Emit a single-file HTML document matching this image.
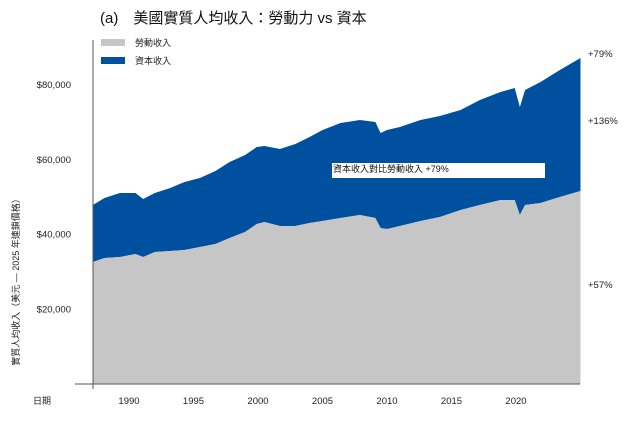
<!DOCTYPE html>
<html><head><meta charset="utf-8"><style>
body{margin:0;background:#fff;font-family:"Liberation Sans","Noto Sans CJK TC",sans-serif}
svg text{font-family:"Liberation Sans","Noto Sans CJK TC",sans-serif}
</style></head><body>
<svg id="c" width="627" height="419" viewBox="0 0 627 419">
<text x="100" y="23" font-size="15" fill="#111">(a)　美國實質人均收入：勞動力 vs 資本</text>
<rect x="101" y="39" width="24" height="7" fill="#c6c6c6"/>
<text x="135" y="46" font-size="9" fill="#222">勞動收入</text>
<rect x="101" y="57" width="24" height="7" fill="#0050a0"/>
<text x="135" y="64" font-size="9" fill="#222">資本收入</text>
<g id="plot"></g>
<text transform="translate(19,280) rotate(-90)" text-anchor="middle" font-size="9" fill="#222">實質人均收入（美元 — 2025 年連鎖價格）</text>
<text x="33" y="404" font-size="9" fill="#222">日期</text>
<text x="588" y="57" font-size="9.5" fill="#222">+79%</text>
<text x="588" y="124" font-size="9.5" fill="#222">+136%</text>
<text x="588" y="288" font-size="9.5" fill="#222">+57%</text>
<g id="anno"><rect x="332" y="163" width="213" height="15" fill="#fff"/>
<text x="333" y="172" font-size="9" fill="#111">資本收入對比勞動收入 +79%</text></g>
</svg>
<script>
const years=[1987.2,1988.1,1989.3,1990.5,1991.1,1992.0,1993.2,1994.3,1995.5,1996.7,1997.8,1999.0,1999.9,2000.5,2001.7,2002.9,2004.0,2005.0,2006.4,2007.9,2009.1,2009.5,2010.0,2011.0,2012.6,2014.1,2015.7,2017.2,2018.8,2019.9,2020.3,2020.7,2021.9,2023.4,2025.0];
const labor=[32660,33730,34000,34800,34000,35340,35600,35870,36670,37480,39080,40690,42830,43370,42300,42300,43100,43640,44440,45240,44440,41760,41490,42300,43640,44710,46580,47920,49260,49260,45240,47920,48450,50060,51670];
const capital=[15260,16060,17130,16330,15530,15790,16870,18210,18480,19540,20350,20610,20610,20340,20610,21950,23020,24360,25430,25430,25700,25430,26510,26500,27030,27030,26770,28110,28910,29980,28910,30780,32400,34000,35600];
const yTicks=[20000,40000,60000,80000];
const xTicks=[1990,1995,2000,2005,2010,2015,2020];
const NS="http://www.w3.org/2000/svg";
const X=v=>129+(v-1990)*12.9;
const Y=v=>384-v/20000*74.7;
const plotG=document.getElementById('plot');
function mk(t,a){const e=document.createElementNS(NS,t);for(const k in a)e.setAttribute(k,a[k]);plotG.appendChild(e);return e;}
const totPts=years.map((y,i)=>X(y)+','+Y(labor[i]+capital[i]));
const labPts=years.map((y,i)=>X(y)+','+Y(labor[i]));
const cap=mk('path',{d:'M'+totPts.join('L')+'L'+labPts.slice().reverse().join('L')+'Z',fill:'#0050a0'});


const la=mk('path',{d:'M'+X(years[0])+','+Y(0)+'L'+labPts.join('L')+'L'+X(years[years.length-1])+','+Y(0)+'Z',fill:'#c6c6c6'});


const ya=mk('line',{x1:93,y1:40,x2:93,y2:389,stroke:'#555','stroke-width':1});


const xa=mk('line',{x1:75,y1:384,x2:580,y2:384,stroke:'#555','stroke-width':1});


yTicks.forEach(v=>{const t=mk('text',{x:71,y:Y(v)+3,'text-anchor':'end','font-size':9.5,fill:'#222'});t.textContent='$'+v.toLocaleString('en-US');

});
xTicks.forEach(v=>{const t=mk('text',{x:X(v),y:404,'text-anchor':'middle','font-size':9.5,fill:'#222'});t.textContent=v;

});
document.getElementById('c').appendChild(document.getElementById('anno'));
</script>
</body></html>
